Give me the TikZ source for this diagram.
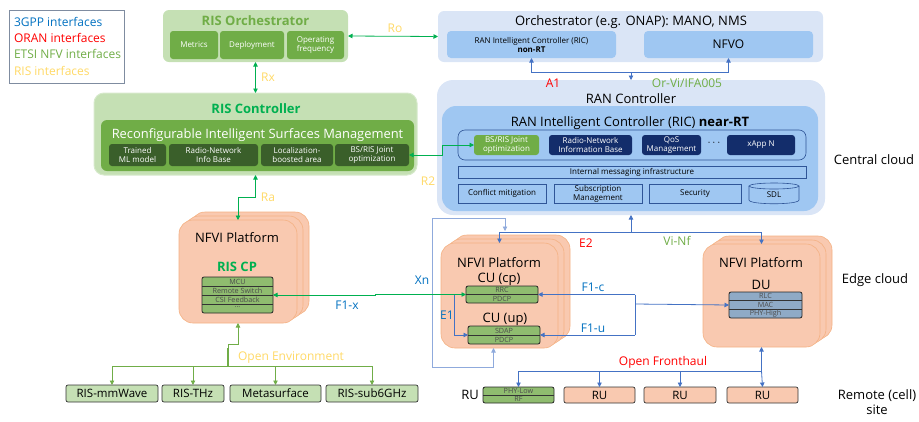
\documentclass[tikz,border=0pt]{standalone}
\usepackage{fontspec}
\setmainfont{Open Sans}
\usetikzlibrary{arrows.meta}
\definecolor{lgreen}{HTML}{C5E0B4}
\definecolor{mgreen}{HTML}{70AD47}
\definecolor{dgreen}{HTML}{3A5F2A}
\definecolor{risgreen}{HTML}{00B050}
\definecolor{lblue}{HTML}{DAE5F6}
\definecolor{mblue}{HTML}{9FC7F2}
\definecolor{navy}{HTML}{132D6B}
\definecolor{oblue}{HTML}{2F5597}
\definecolor{salmon}{HTML}{F9C9B0}
\definecolor{salmonb}{HTML}{F4B183}
\definecolor{cugreen}{HTML}{8FBC6F}
\definecolor{dublue}{HTML}{8FAAC6}
\definecolor{yel}{HTML}{FFD966}
\definecolor{gppblue}{HTML}{0070C0}
\definecolor{conblue}{HTML}{4472C4}
\definecolor{loopblue}{HTML}{8FAADC}
\definecolor{legframe}{HTML}{7F8CA0}
\begin{document}
\begin{tikzpicture}[x=1pt,y=-1pt,
  every node/.style={inner sep=0pt, outer sep=0pt},
  >={Triangle[length=4.5pt,width=4.5pt]},
  t13/.style={font=\fontsize{13}{15}\selectfont},
  tb13/.style={font=\fontsize{13}{15}\selectfont\bfseries},
  t12/.style={font=\fontsize{12}{14}\selectfont},
  t11/.style={font=\fontsize{11.5}{13}\selectfont},
  t8/.style={font=\fontsize{8}{9}\selectfont},
  t7/.style={font=\fontsize{7.2}{8}\selectfont},
  panel/.style={rounded corners=6pt},
  sub/.style={rounded corners=3pt, t8, align=center, text=white},
  ricbox/.style={draw=oblue, line width=0.6pt, t8, align=center},
  plat/.style={rounded corners=14pt, fill=salmon, draw=salmonb, line width=0.6pt},
  stack/.style={rounded corners=2pt, draw=black!85, line width=0.8pt},
  envbox/.style={rounded corners=2pt, draw=black!80, line width=0.7pt, fill=lgreen, t11},
  rubox/.style={rounded corners=2pt, draw=black!80, line width=0.7pt, fill=salmon, t11},
  risl/.style={draw=risgreen, line width=0.8pt},
  bl/.style={draw=conblue, line width=0.8pt},
  envl/.style={draw=mgreen, line width=0.8pt},
  loopl/.style={draw=loopblue, line width=0.8pt},
  rtxt/.style={t7, text=black!70}
]
\useasboundingbox (0,0) rectangle (919,421);

% ---------- legend
\node[draw=legframe, line width=0.8pt, minimum width=115, minimum height=73] (legend) at (66.5,46.5) {};
\node[font=\fontsize{12}{14}\selectfont, anchor=west, text=gppblue] (lg1) at (14,22) {3GPP interfaces};
\node[font=\fontsize{12}{14}\selectfont, anchor=west, text=red] (lg2) at (14,38) {ORAN interfaces};
\node[font=\fontsize{12}{14}\selectfont, anchor=west, text=mgreen] (lg3) at (14,54) {ETSI NFV interfaces};
\node[font=\fontsize{12}{14}\selectfont, anchor=west, text=yel] (lg4) at (14,70.5) {RIS interfaces};

% ---------- RIS Orchestrator
\node[panel, fill=lgreen, minimum width=185, minimum height=52] (risorch) at (255.5,36) {};
\node[tb13, text=mgreen] (risorcht) at (255.5,21) {RIS Orchestrator};
\node[sub, fill=mgreen, minimum width=48, minimum height=28] (metrics) at (194,45) {Metrics};
\node[sub, fill=mgreen, minimum width=64, minimum height=28] (deploy) at (252,45) {Deployment};
\node[sub, fill=mgreen, minimum width=57, minimum height=28] (opfreq) at (315.5,45) {Operating\\frequency};

% ---------- ONAP
\node[panel, fill=lblue, minimum width=385, minimum height=51] (onap) at (630.5,36.5) {};
\node[t13] (onapt) at (631,22) {Orchestrator (e.g. ONAP): MANO, NMS};
\node[rounded corners=4pt, fill=mblue, minimum width=169, minimum height=27, t8, align=center] (nonrt) at (531.5,44.5) {RAN Intelligent Controller (RIC)\\\textbf{non-RT}};
\node[rounded corners=4pt, fill=mblue, minimum width=169, minimum height=27, t12] (nfvo) at (728.5,44.5) {NFVO};

% ---------- RIS Controller
\node[rounded corners=10pt, fill=lgreen, draw=lgreen!70!white, line width=1pt, minimum width=323, minimum height=82] (risctl) at (255.5,134) {};
\node[tb13, text=risgreen] (risctlt) at (256,109) {RIS Controller};
\node[rounded corners=6pt, fill=mgreen, minimum width=313, minimum height=51] (rism) at (257.5,145.5) {};
\node[font=\fontsize{12.9}{14}\selectfont, text=white] (rismt) at (257.5,135) {Reconfigurable Intelligent Surfaces Management};
\node[sub, fill=dgreen, minimum width=57, minimum height=22] (trained) at (137.5,155) {Trained\\ML model};
\node[sub, fill=dgreen, minimum width=89, minimum height=22] (rnib) at (213.5,155) {Radio-Network\\Info Base};
\node[sub, fill=dgreen, minimum width=72, minimum height=22] (loc) at (297,155) {Localization-\\boosted area};
\node[sub, fill=dgreen, minimum width=74, minimum height=22] (rbsris) at (372,155) {BS/RIS Joint\\optimization};

% ---------- RAN Controller
\node[rounded corners=16pt, fill=lblue, minimum width=388, minimum height=135] (ranctl) at (631,147.5) {};
\node[t13] (ranctlt) at (631,99) {RAN Controller};
\node[rounded corners=14pt, fill=mblue, minimum width=376, minimum height=105] (nearrt) at (630,158.5) {};
\node[t13] (nearrtt) at (630,123) {RAN Intelligent Controller (RIC) \textbf{near-RT}};
\node[rounded corners=7pt, draw=oblue, line width=0.6pt, minimum width=348, minimum height=30] (xapps) at (632,145) {};
\node[sub, fill=mgreen, minimum width=65, minimum height=20] (nbsris) at (506.5,145) {BS/RIS Joint\\optimization};
\node[sub, fill=navy, minimum width=83, minimum height=20] (rnib2) at (590.5,145) {Radio-Network\\Information Base};
\node[sub, fill=navy, minimum width=59, minimum height=20] (qos) at (671.5,145) {QoS\\Management};
\node[font=\fontsize{11}{12}\selectfont\bfseries] (dots) at (714,143) {$\cdots$};
\node[sub, fill=navy, minimum width=68, minimum height=20] (xappn) at (761,145) {xApp N};
\node[ricbox, minimum width=348, minimum height=12] (imi) at (632,172) {Internal messaging infrastructure};
\node[ricbox, minimum width=88, minimum height=19] (conf) at (502,193.5) {Conflict mitigation};
\node[ricbox, minimum width=88, minimum height=19] (subs) at (598,193.5) {Subscription\\Management};
\node[ricbox, minimum width=92, minimum height=19] (secu) at (695,193.5) {Security};
\node[t8, minimum width=50, minimum height=19] (sdl) at (774,194.5) {SDL};
\draw[draw=oblue, line width=0.6pt] (749,186) -- (749,200) .. controls (749,205) and (799,205) .. (799,200) -- (799,186);
\draw[draw=oblue, line width=0.6pt] (774,186) ellipse [x radius=25, y radius=3];

% ---------- left NFVI platform (RIS CP)
\node[plat, minimum width=118, minimum height=103] (lplat2) at (250,263.5) {};
\node[plat, minimum width=118, minimum height=103] (lplat1) at (244,267.5) {};
\node[plat, minimum width=118, minimum height=103] (lplat) at (238,271.5) {};
\node[t13] (lplatt) at (237,238) {NFVI Platform};
\node[tb13, text=risgreen] (riscpt) at (237,267) {RIS CP};
\node[stack, fill=cugreen, minimum width=71, minimum height=36] (riscp) at (237.5,295) {};
\draw[black!80, line width=0.6pt] (riscp.west |- 0,286) -- (riscp.east |- 0,286)
  (riscp.west |- 0,295) -- (riscp.east |- 0,295) (riscp.west |- 0,304) -- (riscp.east |- 0,304);
\node[rtxt] (mcu) at (237.5,281.5) {MCU};
\node[rtxt] (rsw) at (237.5,290.5) {Remote Switch};
\node[rtxt] (csi) at (237.5,299.5) {CSI Feedback};
\node[rtxt] (rdots) at (237.5,307.5) {...};

% ---------- middle NFVI platform (CU)
\node[plat, minimum width=117, minimum height=105] (mplat2) at (511.5,287.5) {};
\node[plat, minimum width=117, minimum height=105] (mplat1) at (505.5,291.5) {};
\node[plat, minimum width=117, minimum height=105] (mplat) at (499.5,295.5) {};
\node[t13] (mplatt) at (499,263) {NFVI Platform};
\node[t13] (cucp) at (499,279) {CU (cp)};
\node[stack, fill=cugreen, minimum width=72, minimum height=17] (rrc) at (502,294.5) {};
\draw[black!80, line width=0.6pt] (rrc.west) -- (rrc.east);
\node[rtxt] (rrct) at (502,290.2) {RRC};
\node[rtxt] (pdcp1) at (502,299) {PDCP};
\node[t13] (cuup) at (505,319) {CU (up)};
\node[stack, fill=cugreen, minimum width=72, minimum height=18] (sdap) at (504,335) {};
\draw[black!80, line width=0.6pt] (sdap.west) -- (sdap.east);
\node[rtxt] (sdapt) at (504,330.5) {SDAP};
\node[rtxt] (pdcp2) at (504,339.5) {PDCP};

% ---------- right NFVI platform (DU)
\node[plat, minimum width=117, minimum height=103] (rplat2) at (773.5,287.5) {};
\node[plat, minimum width=117, minimum height=103] (rplat1) at (767.5,291.5) {};
\node[plat, minimum width=117, minimum height=103] (rplat) at (761.5,295.5) {};
\node[t13] (rplatt) at (761,263) {NFVI Platform};
\node[t13] (dut) at (761,285) {DU};
\node[stack, fill=dublue, minimum width=73, minimum height=26] (du) at (765.5,305) {};
\draw[black!80, line width=0.6pt] (du.west |- 0,300.7) -- (du.east |- 0,300.7) (du.west |- 0,309.3) -- (du.east |- 0,309.3);
\node[rtxt] (rlc) at (765.5,296.3) {RLC};
\node[rtxt] (mac) at (765.5,305) {MAC};
\node[rtxt] (phyh) at (765.5,313.7) {PHY-High};

% ---------- bottom RIS boxes
\node[envbox, minimum width=92, minimum height=17] (b1) at (112,393.5) {RIS-mmWave};
\node[envbox, minimum width=62, minimum height=17] (b2) at (193,393.5) {RIS-THz};
\node[envbox, minimum width=91, minimum height=17] (b3) at (275.5,393.5) {Metasurface};
\node[envbox, minimum width=92, minimum height=17] (b4) at (372,393.5) {RIS-sub6GHz};

% ---------- RUs
\node[t13] (rul) at (470,395) {RU};
\node[stack, fill=cugreen, minimum width=71, minimum height=16] (ru1) at (518.5,395) {};
\draw[black!80, line width=0.6pt] (ru1.west) -- (ru1.east);
\node[rtxt] (phyl) at (518.5,391) {PHY-Low};
\node[rtxt] (rf) at (518.5,399) {RF};
\node[rubox, minimum width=71, minimum height=16] (ru2) at (599.5,395) {RU};
\node[rubox, minimum width=72, minimum height=16] (ru3) at (680,395) {RU};
\node[rubox, minimum width=71, minimum height=16] (ru4) at (762.5,395) {RU};

% ---------- side labels
\node[t13] (central) at (874,160) {Central cloud};
\node[t13] (edge) at (875,280) {Edge cloud};
\node[t13, align=center] (remote) at (877,402) {Remote (cell)\\site};

% ---------- connectors
\draw[risl,<->] (onap.west) -- (risorch.east);
\node[t12, text=yel] (ro) at (395,28) {Ro};
\draw[risl,<->] (risorch.south) -- (risctl.north);
\node[t12, text=yel] (rx) at (268,77) {Rx};

\coordinate (a1mid) at (631,72);
\draw[bl,<->] (nonrt.south) -- (nonrt.south |- a1mid) -| (nfvo.south);
\draw[bl,->] (a1mid) -- (ranctl.north);
\node[t12, text=red] (a1) at (553,83) {A1};
\node[t12, text=mgreen] (orvi) at (687,83) {Or-Vi/IFA005};

\draw[risl,<->] (rbsris.east) -- (442,155) |- (nbsris.west);
\node[t12, text=yel] (r2) at (428,181) {R2};

\draw[risl,<->] (risctl.south) -- (255.5,197) -| (lplat.north);
\node[t12, text=yel] (ra) at (268,197) {Ra};

\coordinate (oe) at (228,366);
\draw[envl,<-] (lplat.south) -- (238,344) -| (oe);
\draw[mgreen, line width=1.6pt] (228,348) -- (oe);
\draw[envl] (b1.north |- oe) -- (b4.north |- oe);
\draw[envl,->] (b1.north |- oe) -- (b1.north);
\draw[envl,->] (b2.north |- oe) -- (b2.north);
\draw[envl,->] (b3.north |- oe) -- (b3.north);
\draw[envl,->] (b4.north |- oe) -- (b4.north);
\node[t12, text=yel] (oet) at (291,358) {Open Environment};

\coordinate (e2m) at (631,232);
\draw[bl,<->] (mplat.north) -- (mplat.north |- e2m) -- (rplat.north |- e2m) -- (rplat.north);
\draw[bl,->] (e2m) -- (ranctl.south);
\node[t12, text=red] (e2) at (586,243) {E2};
\node[t12, text=mgreen] (vinf) at (677,241) {Vi-Nf};

\coordinate (xnend) at (505,231);
\draw[loopl,<->] ([xshift=-6]mplat.south) -- (493.5,367) -- (432,367) -- (432,218) -- (505,218) -- (xnend);
\node[t12, text=gppblue] (xn) at (422,280) {Xn};

\draw[risl,<->] (riscp.east) -- (375,295) |- (rrc.west);
\node[t12, text=gppblue] (f1x) at (347,305) {F1-x};

\coordinate (e1top) at (454,294.5);
\draw[bl,->] (e1top) |- (sdap.west);
\node[t12, text=gppblue] (e1) at (447,315) {E1};

\coordinate (f1j) at (635,304);
\draw[bl,->] (f1j) -- (du.west);
\draw[bl] (635,294.5) -- (635,335);
\draw[bl,->] (635,294.5) -- (rrc.east);
\draw[bl,->] (635,335) -- (sdap.east);
\node[t12, text=gppblue] (f1c) at (593,287) {F1-c};
\node[t12, text=gppblue] (f1u) at (593,328) {F1-u};

\coordinate (ofh) at (761.5,371);
\draw[bl,<-] (rplat.south) -- (ofh);
\draw[bl] (ru1.north |- ofh) -- (ofh);
\draw[bl,->] (ru1.north |- ofh) -- (ru1.north);
\draw[bl,->] (ru2.north |- ofh) -- (ru2.north);
\draw[bl,->] (ru3.north |- ofh) -- (ru3.north);
\draw[bl,->] (ofh) -- (ru4.north);
\node[t12, text=red] (ofht) at (663,362) {Open Fronthaul};
\end{tikzpicture}
\end{document}
